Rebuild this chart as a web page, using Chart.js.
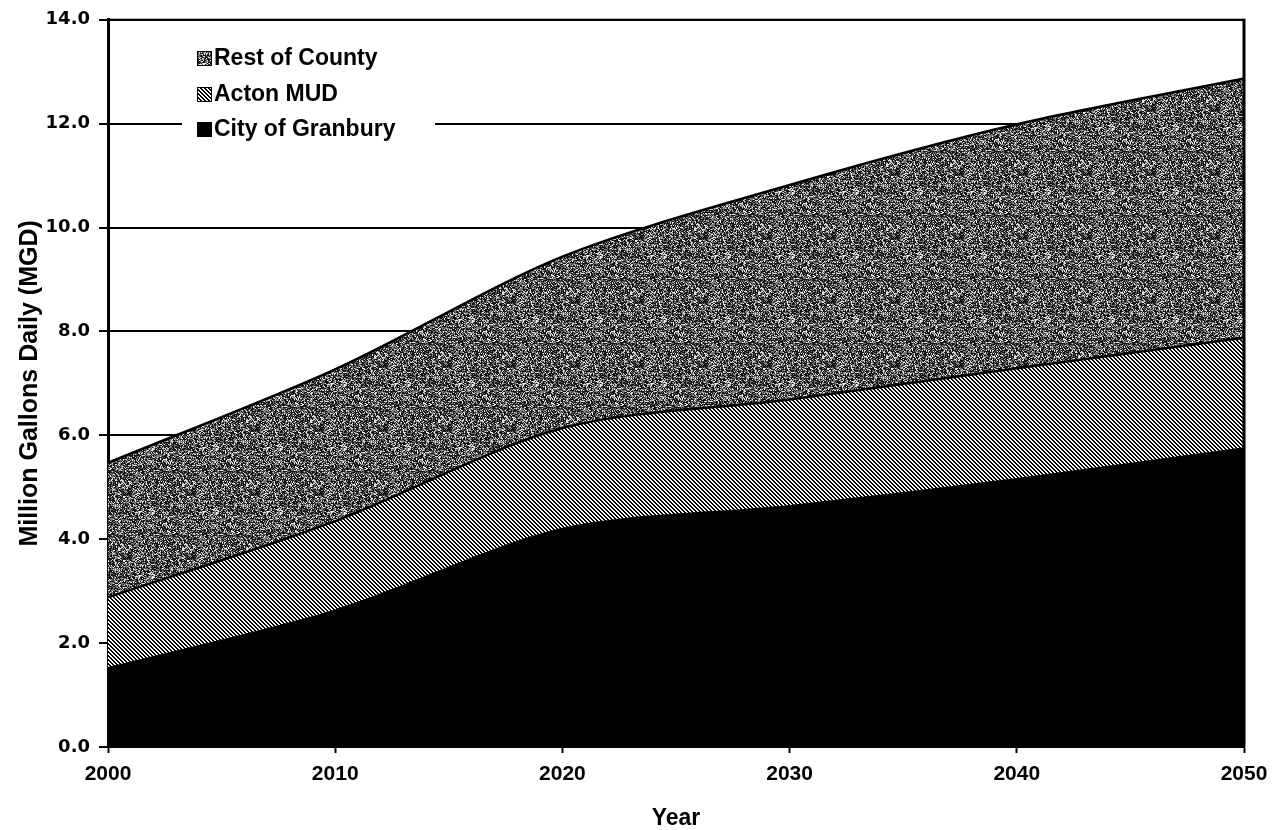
<!DOCTYPE html>
<html>
<head>
<meta charset="utf-8">
<title>Water Demand Projections</title>
<script src="https://cdn.jsdelivr.net/npm/chart.js@4/dist/chart.umd.min.js"></script>
<style>
    body { margin: 0; background: #fff; }
    #wrap { width: 1277px; height: 830px; }
</style>
</head>
<body>
<div id="wrap"><canvas id="demandChart" width="1277" height="830"></canvas></div>
<script>
// Data (MGD), stacked bottom to top
const years = [2000, 2010, 2020, 2030, 2040, 2050];
const cityOfGranbury = [1.52, 2.63, 4.20, 4.64, 5.16, 5.75];
const actonMud = [1.36, 1.72, 1.94, 2.05, 2.13, 2.13];
const restOfCounty = [2.59, 2.92, 3.30, 4.13, 4.70, 4.99];
const yTicks = [0, 2, 4, 6, 8, 10, 12, 14];

// Speckled grey texture (deterministic hash, just styling)
function makeSpeckle() {
    const c = document.createElement('canvas');
    c.width = 64; c.height = 64;
    const ctx = c.getContext('2d');
    const img = ctx.createImageData(64, 64);
    for (let y = 0; y < 64; y++) {
        for (let x = 0; x < 64; x++) {
            let h = (x * 374761393 + y * 668265263) | 0;
            h = Math.imul(h ^ (h >>> 13), 1274126177);
            h = (h ^ (h >>> 16)) >>> 0;
            const v = (h % 1000) / 1000;
            let g = v < 0.5 ? 20 : (v < 0.82 ? 120 : 230);
            const i = (y * 64 + x) * 4;
            img.data[i] = g; img.data[i + 1] = g; img.data[i + 2] = g; img.data[i + 3] = 255;
        }
    }
    ctx.putImageData(img, 0, 0);
    return ctx.createPattern(c, 'repeat');
}

// Diagonal "\" hatch
function makeHatch() {
    const c = document.createElement('canvas');
    c.width = 4; c.height = 4;
    const ctx = c.getContext('2d');
    ctx.fillStyle = '#fff';
    ctx.fillRect(0, 0, 4, 4);
    ctx.fillStyle = '#000';
    for (let y = 0; y < 4; y++) {
        for (let x = 0; x < 4; x++) {
            if (((x - y) % 4 + 4) % 4 < 2) ctx.fillRect(x, y, 1, 1);
        }
    }
    return ctx.createPattern(c, 'repeat');
}

const speckle = makeSpeckle();
const hatch = makeHatch();

function points(vals) {
    return years.map((yr, i) => ({ x: yr, y: vals[i] }));
}

// Frame on top and right + legend box inside the plot
const framePlugin = {
    id: 'frame',
    afterDraw(chart) {
        const ctx = chart.ctx;
        const a = chart.chartArea;
        ctx.save();
        ctx.strokeStyle = '#000';
        ctx.lineWidth = 2;
        ctx.beginPath();
        ctx.moveTo(a.left, a.top);
        ctx.lineTo(a.right, a.top);
        ctx.stroke();
        ctx.lineWidth = 3;
        ctx.beginPath();
        ctx.moveTo(a.right, a.top - 1);
        ctx.lineTo(a.right, a.bottom);
        ctx.stroke();

        // legend
        ctx.fillStyle = '#fff';
        ctx.fillRect(182, 30, 253, 114);
        const items = chart.data.datasets.slice().reverse();
        const rowY = [58, 94, 129];
        ctx.font = 'bold 23px "Liberation Sans", Arial, sans-serif';
        ctx.textBaseline = 'middle';
        ctx.textAlign = 'left';
        items.forEach((ds, i) => {
            ctx.fillStyle = ds.backgroundColor;
            ctx.fillRect(197, rowY[i] - 7, 15, 15);
            ctx.strokeStyle = '#000';
            ctx.lineWidth = 1;
            ctx.strokeRect(197.5, rowY[i] - 6.5, 14, 14);
            ctx.fillStyle = '#000';
            ctx.fillText(ds.label, 214, rowY[i] + 1);
        });
        ctx.restore();
    }
};

document.addEventListener('DOMContentLoaded', function() {
    const ctx = document.getElementById('demandChart');
    new Chart(ctx, {
        type: 'line',
        data: {
            datasets: [{
                label: 'City of Granbury',
                data: points(cityOfGranbury),
                backgroundColor: '#000',
                borderColor: '#000',
                borderWidth: 2,
                fill: 'origin'
            }, {
                label: 'Acton MUD',
                data: points(actonMud),
                backgroundColor: hatch,
                borderColor: '#000',
                borderWidth: 2.5,
                fill: '-1'
            }, {
                label: 'Rest of County',
                data: points(restOfCounty),
                backgroundColor: speckle,
                borderColor: '#000',
                borderWidth: 2.5,
                fill: '-1'
            }]
        },
        options: {
            responsive: false,
            animation: false,
            layout: { padding: { top: 18, right: 33, left: 0, bottom: 0 } },
            elements: {
                point: { radius: 0 },
                line: { tension: 0.3 }
            },
            plugins: {
                legend: { display: false },
                tooltip: { enabled: false }
            },
            scales: {
                x: {
                    type: 'linear',
                    min: 2000,
                    max: 2050,
                    afterFit: function(scale) { scale.height = 83; },
                    ticks: {
                        stepSize: 10,
                        color: '#000',
                        padding: 9,
                        font: { family: '"Liberation Sans", Arial, sans-serif', size: 21, weight: 'bold' },
                        callback: function(value) { return String(value); }
                    },
                    grid: {
                        drawOnChartArea: false,
                        drawTicks: true,
                        tickLength: 6,
                        tickColor: '#000',
                        tickWidth: 2
                    },
                    border: { color: '#000', width: 2 },
                    title: {
                        display: true,
                        text: 'Year',
                        color: '#000',
                        padding: { top: 0, bottom: 0 },
                        font: { family: '"Liberation Sans", Arial, sans-serif', size: 23, weight: 'bold', lineHeight: 1 }
                    }
                },
                y: {
                    stacked: true,
                    min: 0,
                    max: 14,
                    afterFit: function(scale) { scale.width = 108; },
                    afterBuildTicks: function(scale) {
                        scale.ticks = yTicks.map(v => ({ value: v }));
                    },
                    ticks: {
                        color: '#000',
                        padding: 9,
                        font: { family: '"DejaVu Sans", sans-serif', size: 18, weight: 'bold' },
                        callback: function(value) { return value.toFixed(1); }
                    },
                    grid: {
                        color: '#000',
                        lineWidth: 2,
                        drawTicks: true,
                        tickLength: 9,
                        tickColor: '#000'
                    },
                    border: { color: '#000', width: 3 },
                    title: {
                        display: true,
                        text: 'Million Gallons Daily (MGD)',
                        color: '#000',
                        padding: { top: 15, bottom: 0 },
                        font: { family: '"Liberation Sans", Arial, sans-serif', size: 25, weight: 'bold', lineHeight: 1.2 }
                    }
                }
            }
        },
        plugins: [framePlugin]
    });
});
</script>
</body>
</html>
